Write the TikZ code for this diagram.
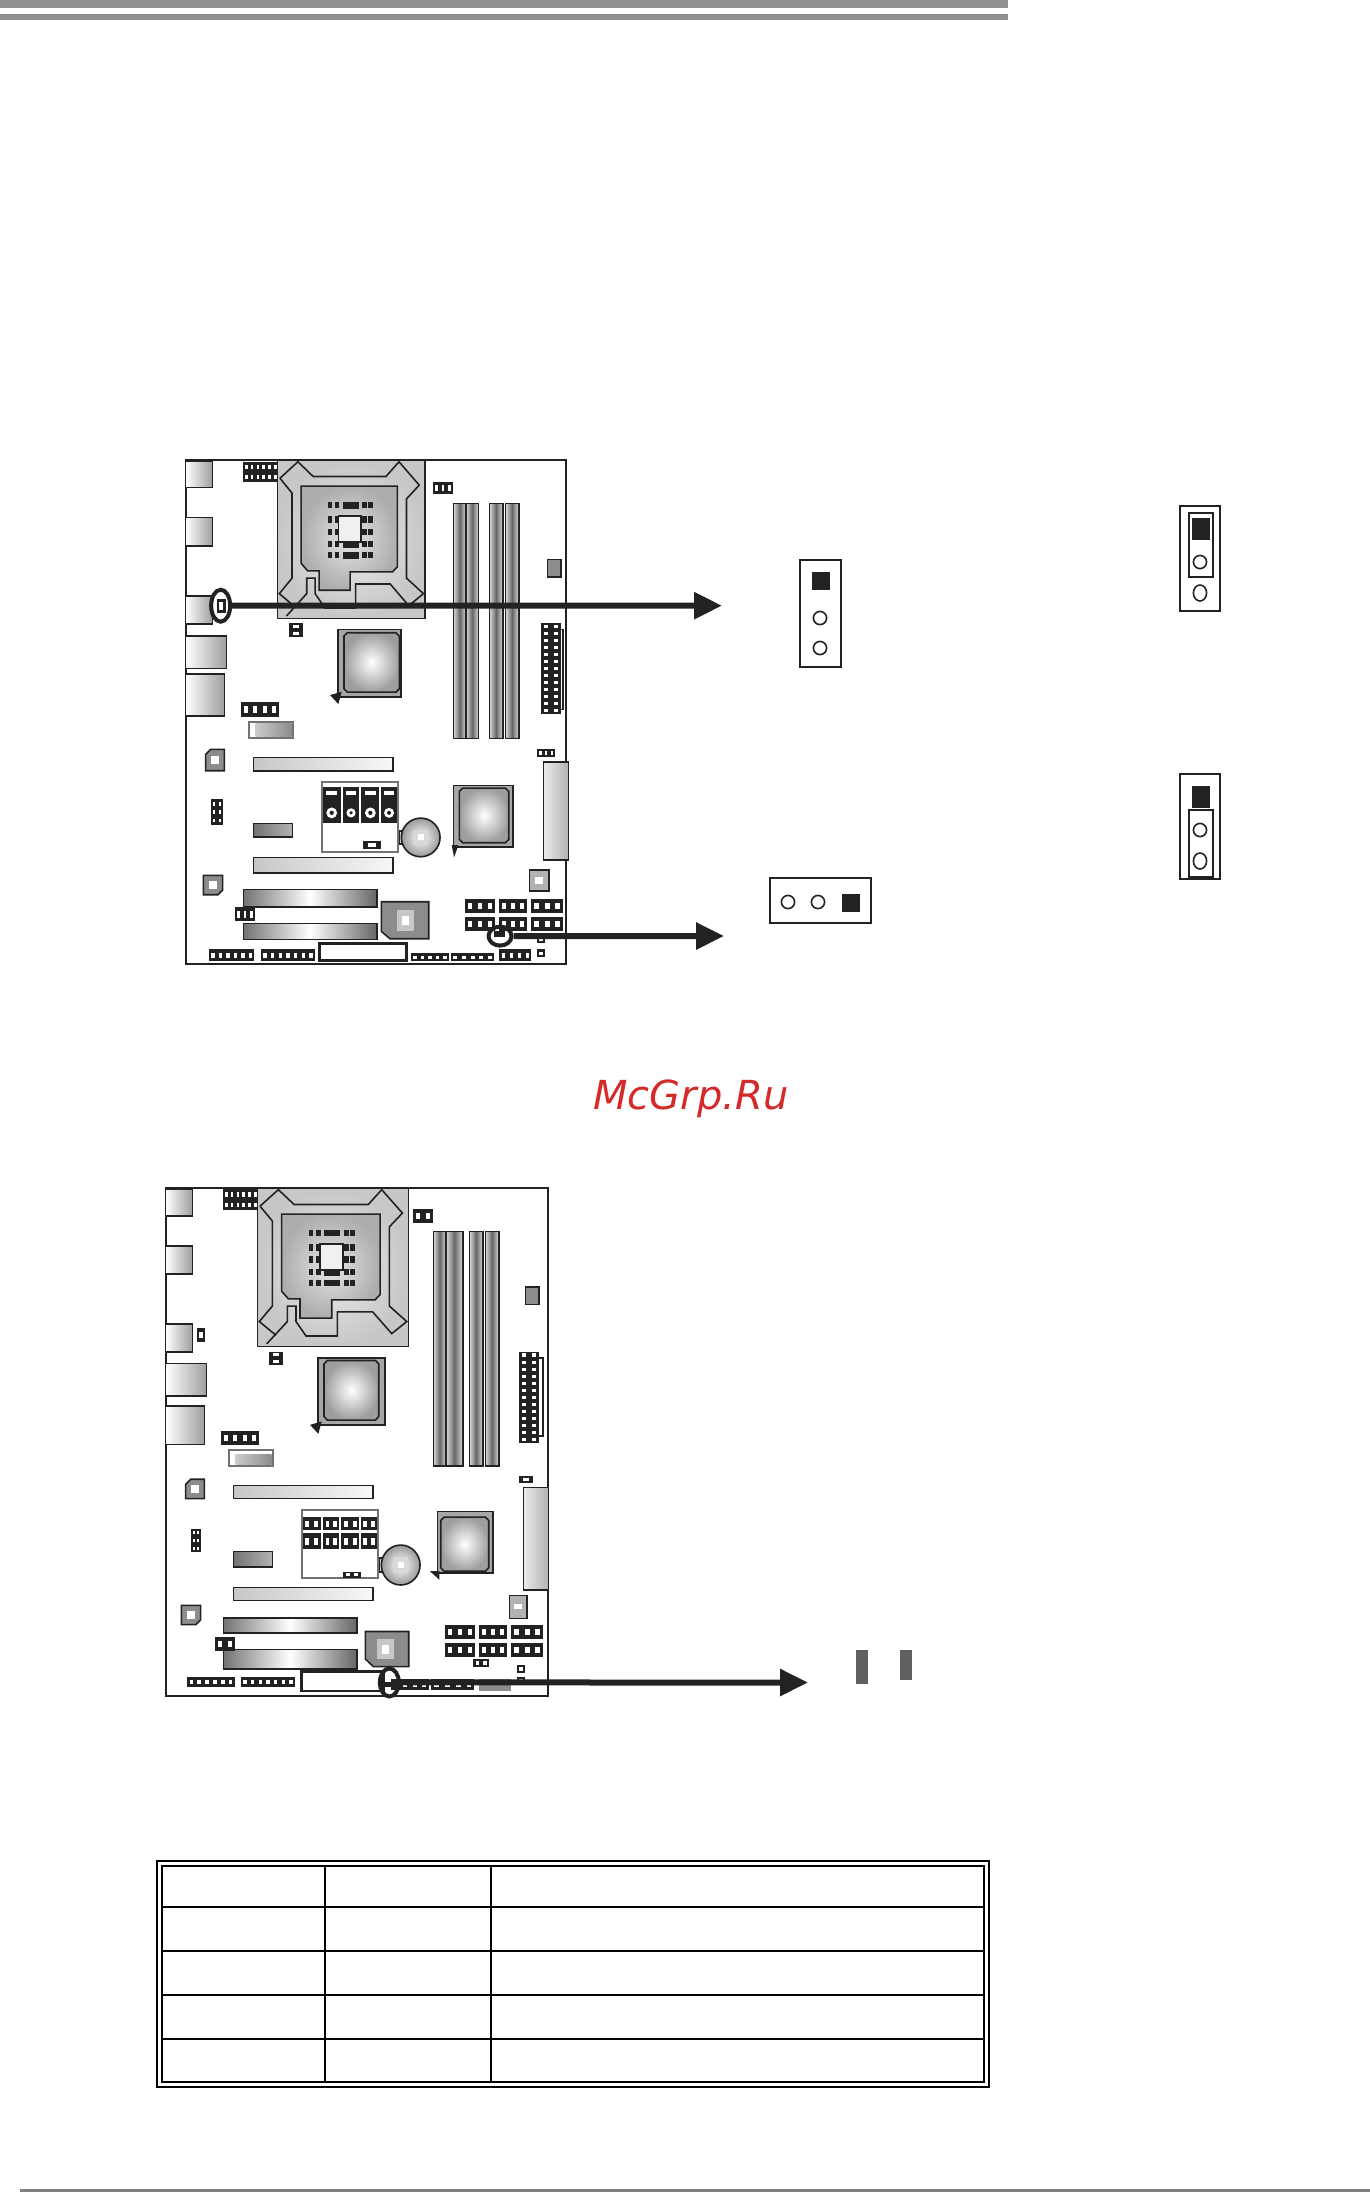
\documentclass[tikz,border=0pt]{standalone}
\usepackage{fontspec}
\usepackage{xcolor}
\usetikzlibrary{arrows.meta}
\usetikzlibrary{shapes.geometric}
\newfontfamily\wmfont{DejaVu Sans}
\definecolor{inkc}{HTML}{222222}
\definecolor{bargray}{HTML}{909090}
\definecolor{footgray}{HTML}{808080}
\definecolor{pingray}{HTML}{606060}
\definecolor{wmred}{HTML}{D42A2A}
\tikzset{
 partline/.style={draw=inkc,line width=0.8pt},
 boardline/.style={draw=inkc,line width=1pt},
 ioshade/.style={partline,left color=white,right color=black!38},
 paleshade/.style={partline,left color=black!22,right color=black!3},
 barshade/.style={partline,left color=black!55,right color=black!60,middle color=white},
 memshade/.style={partline,left color=black!15,right color=black!15,middle color=black!60},
 chipshade/.style={partline,inner color=white,outer color=black!38},
 ringmark/.style={ellipse,draw=inkc,line width=2pt,inner sep=0pt,fill=none},
 pointer/.style={draw=inkc,line width=3pt,-{Triangle[length=14pt,width=13pt]}},
 jumperbox/.style={rectangle,draw=inkc,line width=1pt,inner sep=0pt,fill=none},
 pinsq/.style={rectangle,fill=inkc,inner sep=0pt},
 pinhole/.style={circle,draw=inkc,line width=0.8pt,inner sep=0pt,minimum size=6.6pt},
 tablerule/.style={draw=black,line width=1pt}
}
\newcommand{\hdr}[6]{
 \fill[inkc] (#1,#2) rectangle ++(#3,#4);
 \foreach \i in {1,...,#5}
  \foreach \j in {1,...,#6}
   \fill[white] ({#1+(\i-.72)*#3/#5},{#2+(\j-.72)*#4/#6}) rectangle ++({.44*#3/#5},{.44*#4/#6});
}
\newcommand{\jack}[4]{
 \fill[inkc] (#1,#2) rectangle ++(#3,#4);
 \fill[white] ({#1+.2*#3},{#2+.1*#4}) rectangle ++({.6*#3},{.12*#4});
 \fill[white] ({#1+.5*#3},{#2+.72*#4}) circle ({.3*#3});
 \fill[inkc] ({#1+.5*#3},{#2+.72*#4}) circle ({.12*#3});
}
\newcommand{\memslot}[4]{
 \path[memshade] (#1,#2) rectangle (#3,#4);
}
\newcommand{\chip}[8]{
 \path[partline,fill=black!35] (#1,#2) rectangle (#3,#4);
 \path[chipshade] ({#5+10},#6) -- ({#7-10},#6) -- (#7,{#6+10}) -- (#7,{#8-10}) -- ({#7-10},#8) -- ({#5+10},#8) -- (#5,{#8-10}) -- (#5,{#6+10}) -- cycle;
}
\newcommand{\battery}[2]{
 \path[partline,fill=black!15] ({#1-64},{#2-20}) rectangle ({#1-50},{#2+20});
 \path[partline,inner color=white,outer color=black!40] (#1,#2) circle (58);
 \fill[black!15] ({#1-22},{#2-22}) rectangle ({#1+22},{#2+22});
 \fill[white] ({#1-9},{#2-9}) rectangle ({#1+9},{#2+9});
}
\newcommand{\socket}{
 \path[partline,inner color=black!8,outer color=black!22] (0,0) rectangle (452,460);
 \path[partline] (7,53) -- (62,5) -- (109,48) -- (332,48) -- (372,5) -- (434,73) -- (395,113) -- (395,343) -- (447,388) -- (402,423) -- (345,360) -- (239,360) -- (239,430) -- (145,430) -- (115,388) -- (115,343) -- (89,343) -- (89,388) -- (27,453);
 \path[partline] (7,53) -- (44,96) -- (44,343) -- (5,388) -- (55,428);
 \path[partline,inner color=black!10,outer color=black!32] (72,76) -- (367,76) -- (367,310) -- (352,325) -- (222,325) -- (222,378) -- (127,378) -- (127,322) -- (92,322) -- (72,300) -- cycle;
 \foreach \y in {131,173,208,245,276}
  \foreach \x in {160,182,267,285}
   \fill[inkc] (\x-7,\y-9) rectangle (\x+7,\y+9);
 \foreach \y in {131,245,276}
  \fill[inkc] (200,\y-10) rectangle (248,\y+10);
 \path[partline,fill=black!6] (187,163) rectangle (255,238);
}
\begin{document}
\begin{tikzpicture}[x=0.5pt,y=-0.5pt]
\useasboundingbox (0,0) rectangle (1370,2192);

\fill[bargray] (0,0) rectangle (1008,8);
\fill[bargray] (0,14) rectangle (1008,20);
\fill[footgray] (20,2189) rectangle (1370,2192);

\begin{scope}[shift={(170,450)},x=0.1667pt,y=-0.1667pt]
\path[boardline] (47,30) rectangle (1188,1542);
\path[ioshade] (47,35) rectangle (127,113);
\path[ioshade] (47,203) rectangle (127,288);
\path[ioshade] (47,437) rectangle (127,522);
\path[ioshade] (47,558) rectangle (170,655);
\path[ioshade] (47,672) rectangle (163,798);
\hdr{220}{35}{105}{62}{6}{2}
\begin{scope}[shift={(323,30)},xscale=0.978,yscale=1.033]
\socket
\end{scope}
\hdr{790}{95}{58}{38}{3}{1}
\memslot{850}{160}{888}{865}
\memslot{888}{160}{925}{865}
\memslot{958}{160}{998}{865}
\memslot{1006}{160}{1046}{865}
\path[partline,fill=black!45] (1132,328) rectangle (1172,380);
\hdr{358}{520}{40}{40}{1}{2}
\chip{503}{538}{692}{740}{522}{548}{688}{726}
\fill[inkc] (480,735) -- (515,725) -- (505,762) -- cycle;
\path[partline] (1172,538) -- (1178,538) -- (1178,778) -- (1172,778);
\hdr{1114}{520}{58}{273}{2}{13}
\hdr{214}{755}{112}{45}{4}{1}
\path[draw=black!55,line width=1pt,fill=white] (238,815) rectangle (368,865);
\path[paleshade,draw=none,left color=black!20,right color=black!45] (256,820) rectangle (365,858);
\path[partline,fill=black!45] (122,898) -- (163,898) -- (163,962) -- (107,962) -- (107,913) -- cycle;
\fill[white] (124,918) rectangle (148,942);
\path[paleshade] (250,922) rectangle (668,962);
\hdr{1102}{898}{52}{22}{3}{1}
\path[paleshade,left color=black!8,right color=black!30] (1120,935) rectangle (1195,1230);
\hdr{124}{1048}{34}{76}{2}{3}
\path[draw=black!55,line width=1pt,fill=white] (455,995) rectangle (685,1206);
\jack{458}{1012}{54}{106}
\jack{520}{1012}{46}{106}
\jack{574}{1012}{54}{106}
\jack{632}{1012}{50}{106}
\hdr{580}{1174}{52}{22}{1}{1}
\chip{850}{1006}{1028}{1190}{868}{1014}{1016}{1178}
\fill[inkc] (845,1185) -- (865,1185) -- (852,1222) -- cycle;
\battery{752}{1162}
\path[partline,left color=black!55,right color=black!30] (250,1120) rectangle (368,1160);
\path[paleshade] (250,1222) rectangle (668,1268);
\path[partline,fill=black!45] (100,1276) -- (158,1276) -- (158,1320) -- (144,1334) -- (100,1334) -- cycle;
\fill[white] (118,1294) rectangle (140,1316);
\path[partline,fill=black!30] (1078,1260) -- (1136,1260) -- (1136,1322) -- (1078,1322) -- cycle;
\fill[white] (1096,1280) rectangle (1118,1302);
\path[barshade] (220,1318) rectangle (620,1370);
\path[barshade] (220,1420) rectangle (620,1468);
\hdr{195}{1372}{60}{42}{3}{1}
\path[partline,fill=black!45] (634,1355) -- (776,1355) -- (776,1466) -- (660,1466) -- (634,1444) -- cycle;
\fill[black!22] (680,1380) rectangle (732,1442);
\fill[white] (696,1398) rectangle (716,1424);
\hdr{885}{1348}{90}{40}{3}{1}
\hdr{988}{1348}{82}{40}{3}{1}
\hdr{1084}{1348}{95}{40}{3}{1}
\hdr{885}{1402}{90}{40}{3}{1}
\hdr{988}{1402}{82}{40}{3}{1}
\hdr{1084}{1402}{95}{40}{3}{1}
\hdr{1102}{1460}{22}{18}{1}{1}
\hdr{1102}{1498}{22}{22}{1}{1}
\hdr{118}{1498}{135}{35}{6}{1}
\hdr{274}{1498}{160}{35}{7}{1}
\path[partline,line width=1.6pt,fill=white] (448,1480) rectangle (710,1530);
\hdr{724}{1510}{112}{24}{5}{1}
\hdr{843}{1510}{130}{24}{5}{1}
\hdr{988}{1498}{96}{36}{4}{1}
\fill[inkc] (140,446) rectangle (168,490);
\fill[white] (148,456) rectangle (158,480);
\node[ringmark,minimum width=9.5pt,minimum height=16pt] (ringa) at (152,467) {};
\fill[inkc] (972,1442) rectangle (1006,1462);
\node[ringmark,minimum width=11.5pt,minimum height=9.5pt] (ringb) at (990,1458) {};
\end{scope}

\begin{scope}[shift={(150,1170)},x=0.1667pt,y=-0.1722pt]
\path[boardline] (47,52) rectangle (1194,1526);
\path[ioshade] (47,57) rectangle (127,133);
\path[ioshade] (47,220) rectangle (127,302);
\path[ioshade] (47,447) rectangle (127,528);
\path[ioshade] (47,562) rectangle (170,657);
\path[ioshade] (47,685) rectangle (163,797);
\hdr{142}{458}{22}{42}{1}{1}
\hdr{220}{55}{105}{62}{6}{2}
\begin{scope}[shift={(323,52)}]
\socket
\end{scope}
\hdr{790}{114}{58}{40}{2}{1}
\memslot{850}{178}{888}{860}
\memslot{888}{178}{938}{860}
\memslot{958}{178}{998}{860}
\memslot{1006}{178}{1046}{860}
\path[partline,fill=black!45] (1126,340) rectangle (1166,390);
\hdr{358}{527}{40}{38}{1}{2}
\chip{503}{545}{705}{740}{522}{553}{686}{726}
\fill[inkc] (480,740) -- (515,730) -- (505,766) -- cycle;
\path[partline] (1166,545) -- (1178,545) -- (1178,772) -- (1166,772);
\hdr{1108}{527}{58}{265}{2}{13}
\hdr{214}{758}{112}{40}{4}{1}
\path[draw=black!55,line width=1pt,fill=white] (238,812) rectangle (368,860);
\path[paleshade,draw=none,left color=black!20,right color=black!45] (256,826) rectangle (365,856);
\path[partline,fill=black!45] (122,898) -- (163,898) -- (163,954) -- (107,954) -- (107,913) -- cycle;
\fill[white] (124,914) rectangle (148,938);
\path[paleshade] (250,916) rectangle (668,954);
\hdr{1108}{888}{40}{20}{1}{1}
\path[paleshade,left color=black!8,right color=black!30] (1120,922) rectangle (1195,1220);
\hdr{124}{1042}{28}{68}{2}{3}
\path[draw=black!55,line width=1pt,fill=white] (455,986) rectangle (685,1186);
\hdr{458}{1008}{54}{38}{2}{1}
\hdr{520}{1008}{46}{38}{2}{1}
\hdr{574}{1008}{54}{38}{2}{1}
\hdr{632}{1008}{50}{38}{2}{1}
\hdr{458}{1055}{54}{45}{2}{1}
\hdr{520}{1055}{46}{45}{2}{1}
\hdr{574}{1055}{54}{45}{2}{1}
\hdr{632}{1055}{50}{45}{2}{1}
\hdr{580}{1166}{52}{18}{2}{1}
\chip{862}{992}{1028}{1170}{872}{1008}{1016}{1165}
\fill[inkc] (840,1165) -- (868,1165) -- (868,1190) -- cycle;
\battery{752}{1147}
\path[partline,left color=black!55,right color=black!30] (250,1108) rectangle (368,1152);
\path[paleshade] (250,1212) rectangle (668,1250);
\path[partline,fill=black!45] (94,1264) -- (152,1264) -- (152,1306) -- (138,1320) -- (94,1320) -- cycle;
\fill[white] (112,1281) rectangle (134,1303);
\path[partline,fill=black!30] (1078,1236) -- (1130,1236) -- (1130,1302) -- (1078,1302) -- cycle;
\fill[white] (1092,1260) rectangle (1116,1276);
\path[barshade] (220,1300) rectangle (620,1344);
\path[barshade] (220,1392) rectangle (620,1448);
\hdr{195}{1356}{60}{40}{2}{1}
\path[partline,fill=black!45] (646,1340) -- (776,1340) -- (776,1442) -- (670,1442) -- (646,1420) -- cycle;
\fill[black!22] (682,1362) rectangle (732,1420);
\fill[white] (696,1380) rectangle (716,1404);
\hdr{885}{1322}{90}{40}{3}{1}
\hdr{988}{1322}{82}{40}{3}{1}
\hdr{1084}{1322}{95}{40}{3}{1}
\hdr{885}{1374}{90}{40}{3}{1}
\hdr{988}{1374}{82}{40}{3}{1}
\hdr{1084}{1374}{95}{40}{3}{1}
\hdr{970}{1420}{46}{22}{2}{1}
\hdr{1102}{1438}{22}{22}{1}{1}
\hdr{1102}{1472}{22}{16}{1}{1}
\hdr{112}{1472}{142}{30}{6}{1}
\hdr{274}{1472}{160}{30}{7}{1}
\path[partline,line width=1.2pt,fill=white] (454,1456) rectangle (700,1512);
\hdr{724}{1478}{112}{32}{4}{1}
\hdr{843}{1478}{130}{32}{4}{1}
\fill[black!45] (988,1478) rectangle (1083,1512);
\fill[inkc] (705,1488) rectangle (740,1500);
\node[ringmark,minimum width=9.5pt,minimum height=14pt] (ringc) at (718,1488) {};
\end{scope}

\coordinate (tipa) at (722,605.67);
\coordinate (tipb) at (724,936);
\coordinate (tipc) at (808,1682.5);
\draw[pointer] (ringa.east) -- (tipa);
\draw[pointer] (ringb.east) -- (tipb);
\draw[pointer] (ringc.east) -- (tipc);

\node[jumperbox,minimum width=20.5pt,minimum height=53.5pt] (jpboxa) at (820.5,613.5) {};
\node[pinsq,minimum width=9pt,minimum height=9pt] (jpa1) at (821,581) {};
\node[pinhole] (jpa2) at (820,618) {};
\node[pinhole] (jpa3) at (820,648) {};

\node[jumperbox,minimum width=20pt,minimum height=52.5pt] (jpboxb) at (1200,558.5) {};
\node[jumperbox,minimum width=12pt,minimum height=32pt] (capb) at (1201,545) {};
\node[pinsq,minimum width=9pt,minimum height=11pt] (jpb1) at (1201,529) {};
\node[pinhole] (jpb2) at (1200,562) {};
\node[pinhole,minimum height=8pt,ellipse] (jpb3) at (1200,593) {};

\node[jumperbox,minimum width=20pt,minimum height=52.5pt] (jpboxc) at (1200,826.5) {};
\node[pinsq,minimum width=9pt,minimum height=11pt] (jpc1) at (1201,797) {};
\node[jumperbox,minimum width=12pt,minimum height=33.5pt] (capc) at (1201,843.5) {};
\node[pinhole] (jpc2) at (1200,830) {};
\node[pinhole,minimum height=8pt,ellipse] (jpc3) at (1200,861) {};

\node[jumperbox,minimum width=50.5pt,minimum height=22.5pt] (jpboxd) at (820.5,900.5) {};
\node[pinhole] (jpd1) at (788,902) {};
\node[pinhole] (jpd2) at (818,902) {};
\node[pinsq,minimum width=9pt,minimum height=9pt] (jpd3) at (851,903) {};

\fill[pingray] (856,1650) rectangle (868,1684);
\fill[pingray] (900,1650) rectangle (912,1680);

\node[text=wmred,font=\wmfont\itshape\fontsize{20}{22}\selectfont,inner sep=0pt] (wmark) at (691,1099) {McGrp.Ru};

\path[tablerule] (157,1861) rectangle (989,2087);
\path[tablerule] (162,1866) rectangle (984,2082);
\path[tablerule] (325,1866) -- (325,2082);
\path[tablerule] (491,1866) -- (491,2082);
\path[tablerule] (162,1907) -- (984,1907);
\path[tablerule] (162,1951) -- (984,1951);
\path[tablerule] (162,1995) -- (984,1995);
\path[tablerule] (162,2039) -- (984,2039);
\end{tikzpicture}
\end{document}
